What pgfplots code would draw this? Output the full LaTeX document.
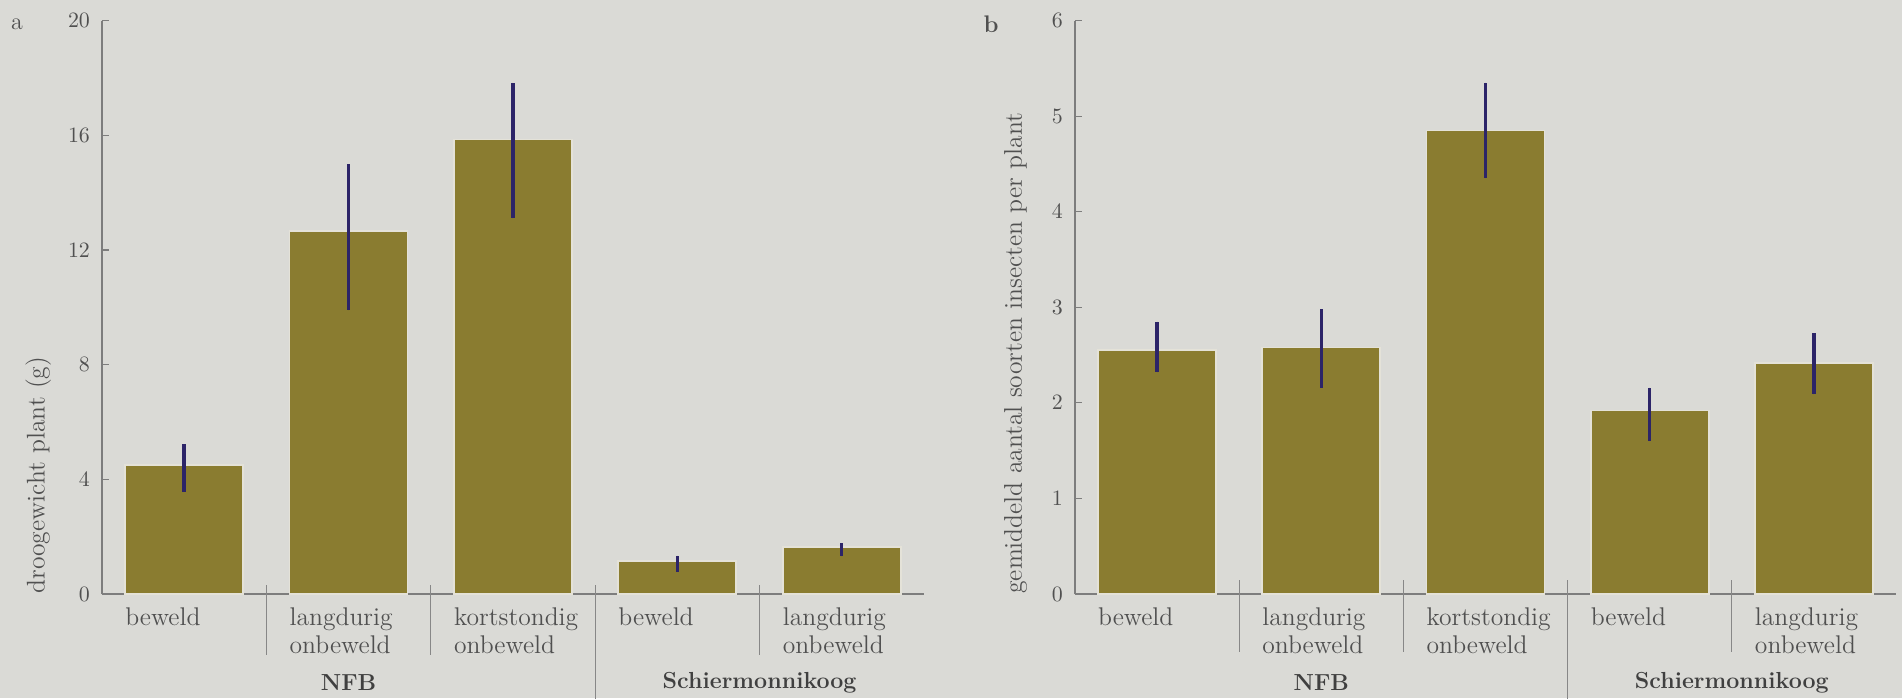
\documentclass[border=0pt]{standalone}
\usepackage{pgfplots}
\pgfplotsset{compat=1.18}
\definecolor{bg}{RGB}{218,218,214}
\definecolor{barc}{RGB}{138,124,48}
\definecolor{barhalo}{RGB}{228,226,216}
\definecolor{errc}{RGB}{44,36,104}
\definecolor{axc}{RGB}{125,125,125}
\definecolor{txt}{RGB}{80,80,80}
\definecolor{sepc}{RGB}{135,135,135}
\tikzset{
  grp/.style={font=\fontsize{11.6}{13}\selectfont\bfseries, text=txt!80!black, yshift=-44.5pt},
  sep/.style={sepc, line width=0.5pt},
}
\pgfplotsset{
  panel/.style={
    scale only axis, width=411pt, height=286.7pt,
    xmin=-0.5, xmax=4.5, ymin=0,
    axis x line*=bottom, axis y line*=left,
    axis line style={axc, line width=0.6pt},
    clip=false,
    xtick={0,1,2,3,4},
    xticklabels={beweld,{langdurig\\onbeweld},{kortstondig\\onbeweld},beweld,{langdurig\\onbeweld}},
    x tick style={draw=none},
    xticklabel style={align=left, anchor=north west, xshift=-33pt, yshift=0pt,
      font=\fontsize{12.8}{13.6}\selectfont, text=txt},
    y tick style={axc, line width=0.6pt},
    tickpos=left, tick align=inside, major tick length=3.5pt,
    yticklabel style={font=\fontsize{10.5}{12}\selectfont, text=txt, xshift=-2.5pt},
    ylabel style={anchor=west, inner sep=0pt,
      font=\fontsize{12.8}{14}\selectfont, text=txt},
    ybar, bar width=59pt,
  },
  mybar/.style={fill=barc, draw=barhalo, line width=0.9pt,
    error bars/.cd, y dir=both, y explicit, error mark=none,
    error bar style={line width=1.7pt, color=errc}},
}
\pgfplotstableread{
x y ep em
0 4.50 0.73 0.93
1 12.67 2.32 2.78
2 15.85 1.98 2.75
3 1.15 0.19 0.38
4 1.65 0.12 0.34
}\dataA
\pgfplotstableread{
x y ep em
0 2.55 0.30 0.23
1 2.58 0.40 0.42
2 4.85 0.50 0.50
3 1.92 0.24 0.32
4 2.42 0.31 0.33
}\dataB
\begin{document}
\begin{tikzpicture}
\useasboundingbox (0,0) rectangle (951pt,349pt);
\fill[bg] (0,0) rectangle (951pt,349pt);
\node[font=\fontsize{12}{14}\selectfont, text=txt] at (8.5pt,337pt) {a};
\node[font=\fontsize{12}{14}\selectfont\bfseries, text=txt] at (495.5pt,337pt) {b};
% panel a
\begin{axis}[panel, at={(51pt,52pt)}, anchor=south west,
  ymax=20, ytick={0,4,8,12,16,20},
  ylabel={droogewicht plant (g)},
  ylabel style={at={(axis description cs:-0.0775,0)}}]
\addplot[mybar] table[x=x, y=y, y error plus=ep, y error minus=em] {\dataA};
\draw[sep] (axis cs:0.5,0) ++(0pt,4.5pt) -- ++(0pt,-35pt);
\draw[sep] (axis cs:1.5,0) ++(0pt,4.5pt) -- ++(0pt,-35pt);
\draw[sep] (axis cs:3.5,0) ++(0pt,4.5pt) -- ++(0pt,-35pt);
\draw[sep] (axis cs:2.5,0) ++(0pt,4.5pt) -- ++(0pt,-57pt);
\node[grp] at (axis cs:1,0) {NFB};
\node[grp] at (axis cs:3.5,0) {Schiermonnikoog};
\end{axis}
% panel b
\begin{axis}[panel, at={(537.5pt,52pt)}, anchor=south west, width=410.5pt,
  ymax=6, ytick={0,1,2,3,4,5,6},
  ylabel={gemiddeld aantal soorten insecten per plant},
  ylabel style={at={(axis description cs:-0.0725,0)}}]
\addplot[mybar] table[x=x, y=y, y error plus=ep, y error minus=em] {\dataB};
\draw[sep] (axis cs:0.5,0) ++(0pt,7pt) -- ++(0pt,-36pt);
\draw[sep] (axis cs:1.5,0) ++(0pt,7pt) -- ++(0pt,-36pt);
\draw[sep] (axis cs:3.5,0) ++(0pt,7pt) -- ++(0pt,-36pt);
\draw[sep] (axis cs:2.5,0) ++(0pt,7pt) -- ++(0pt,-60pt);
\node[grp] at (axis cs:1,0) {NFB};
\node[grp] at (axis cs:3.5,0) {Schiermonnikoog};
\end{axis}
\end{tikzpicture}
\end{document}
